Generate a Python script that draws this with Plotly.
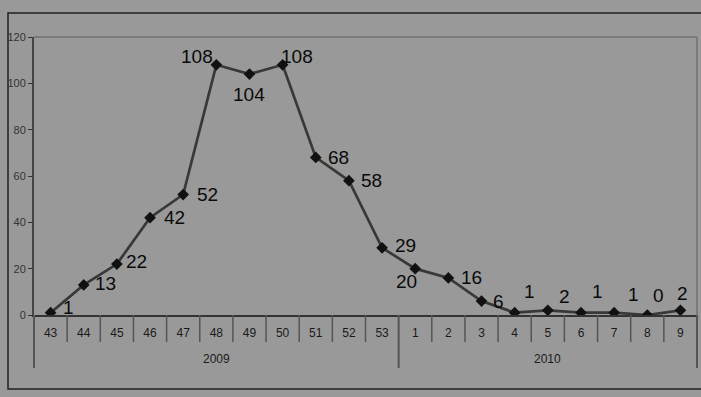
import plotly.graph_objects as go

# Weekly case counts, weeks 43-53 of 2009 and 1-9 of 2010
weeks = ["43", "44", "45", "46", "47", "48", "49", "50", "51", "52", "53",
         "1", "2", "3", "4", "5", "6", "7", "8", "9"]
years = ["2009"] * 11 + ["2010"] * 9
cases = [1, 13, 22, 42, 52, 108, 104, 108, 68, 58, 29,
         20, 16, 6, 1, 2, 1, 1, 0, 2]

# label offsets (pixels) relative to each marker
label_dx = [18, 22, 20, 24, 24, -19, 0, 14, 23, 23, 23,
            -9, 23, 17, 15, 17, 17, 19, 11, 2]
label_dy = [5, 1, 3, 0, 0, 8, -20, 8, 0, 0, 2,
            -13, 0, 0, 21, 14, 21, 18, 20, 17]

W, H = 701, 397
L, R, T, B = 34, 697, 37, 315
pw, ph = R - L, B - T


def px(x):
    return (x - L) / pw


def py(y):
    return (B - y) / ph


n = len(weeks)
xs = list(range(n))

fig = go.Figure()
fig.add_trace(go.Scatter(
    x=xs, y=cases, mode="lines+markers",
    line=dict(color="#383838", width=2.7),
    marker=dict(symbol="diamond", size=9, color="#111111"),
    hoverinfo="skip", showlegend=False,
))

annotations = []
for i, v in enumerate(cases):
    annotations.append(dict(
        x=xs[i], y=v, xref="x", yref="y", text=str(v), showarrow=False,
        xshift=label_dx[i], yshift=label_dy[i],
        font=dict(family="Liberation Sans, Arial", size=19, color="#0a0a0a"),
    ))

# year group labels centred under their weeks
for yr in ["2009", "2010"]:
    idx = [i for i, y in enumerate(years) if y == yr]
    centre = (idx[0] + idx[-1] + 1) / 2 / n
    annotations.append(dict(
        x=centre, y=py(359), xref="paper", yref="paper", text=yr,
        showarrow=False, yanchor="middle", xanchor="center",
        font=dict(family="Liberation Sans, Arial", size=12, color="#1a1a1a"),
    ))

shapes = []
# outer frame
shapes.append(dict(type="rect", xref="paper", yref="paper",
                   x0=px(8), x1=px(704), y0=py(389), y1=py(13),
                   line=dict(color="#202020", width=1.5), layer="below"))
# plot-area border (top and right)
shapes.append(dict(type="line", xref="paper", yref="paper",
                   x0=0, x1=1, y0=1, y1=1,
                   line=dict(color="#7a7a7a", width=2)))
shapes.append(dict(type="line", xref="paper", yref="paper",
                   x0=1, x1=1, y0=0, y1=1,
                   line=dict(color="#7a7a7a", width=2)))
# week boundary ticks and year dividers
group_edges = [0] + [i for i in range(1, n) if years[i] != years[i - 1]] + [n]
for b in range(n + 1):
    long_tick = b in group_edges
    shapes.append(dict(type="line", xref="paper", yref="paper",
                       x0=b / n, x1=b / n, y0=0,
                       y1=py(368) if long_tick else py(342),
                       line=dict(color="#555555", width=2 if long_tick else 1.5)))

fig.update_layout(
    width=W, height=H,
    margin=dict(l=L, r=W - R, t=T, b=H - B),
    paper_bgcolor="#999999", plot_bgcolor="#999999",
    annotations=annotations, shapes=shapes,
    xaxis=dict(
        range=[-0.5, n - 0.5], tickvals=xs, ticktext=weeks,
        ticks="", showgrid=False, zeroline=False, ticklabelstandoff=6,
        showline=True, linecolor="#333333", linewidth=1.5,
        tickfont=dict(family="Liberation Sans, Arial", size=12, color="#1a1a1a"),
        fixedrange=True,
    ),
    yaxis=dict(
        range=[0, 120], tickvals=[0, 20, 40, 60, 80, 100, 120],
        ticks="outside", ticklen=4, tickcolor="#333333", tickwidth=1,
        showgrid=False, zeroline=False,
        showline=True, linecolor="#444444", linewidth=2,
        tickfont=dict(family="Liberation Sans, Arial", size=11, color="#333333"),
        fixedrange=True,
    ),
)

fig.write_html("out.html")
